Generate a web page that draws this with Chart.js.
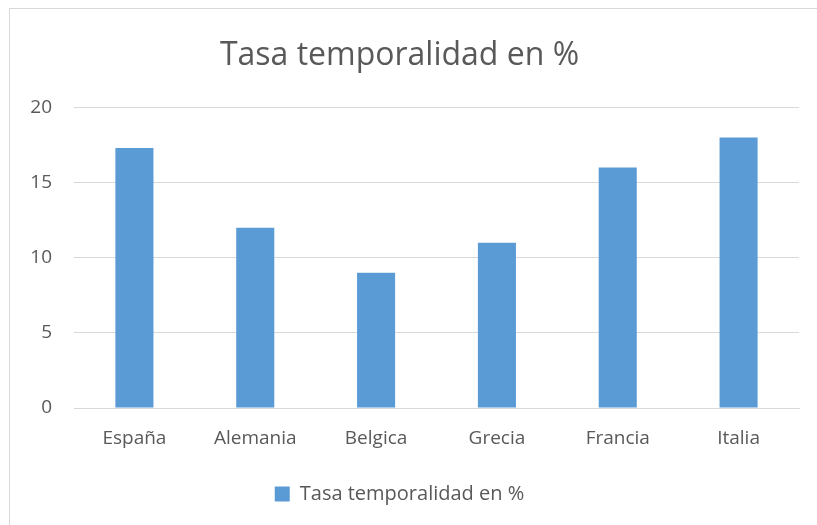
<!DOCTYPE html>
<html>
<head>
<meta charset="utf-8">
<script src="https://cdn.jsdelivr.net/npm/chart.js@4"></script>
<style>
  body { margin: 0; background: #fff; }
  #frame { position: absolute; left: 9px; top: 8px; width: 830px; height: 530px; border: 1px solid #d9d9d9; }
  #wrap { position: absolute; left: 0; top: 0; width: 817px; height: 525px; }
</style>
</head>
<body>
<div id="frame"></div>
<div id="wrap"><canvas id="chart"></canvas></div>
<script>
const categories = ["España", "Alemania", "Belgica", "Grecia", "Francia", "Italia"];
const tasaValues = [17.3, 12, 9, 11, 16, 18];
const seriesLabel = "Tasa temporalidad en %";
const yTicks = [0, 5, 10, 15, 20];

const textColor = "#595959";
const fontFamily = "'Open Sans', 'Noto Sans', sans-serif";

new Chart(document.getElementById("chart"), {
  type: "bar",
  data: {
    labels: categories,
    datasets: [
      {
        label: seriesLabel,
        data: tasaValues,
        backgroundColor: "#5b9bd5",
        borderWidth: 0,
        barPercentage: 0.63,
        categoryPercentage: 0.5
      }
    ]
  },
  options: {
    responsive: true,
    maintainAspectRatio: false,
    animation: false,
    layout: { padding: { left: 0, right: 18, top: 29, bottom: 11 } },
    plugins: {
      title: {
        display: true,
        text: seriesLabel,
        color: textColor,
        font: { family: fontFamily, size: 32, weight: "normal" },
        padding: { top: 8, bottom: 32 }
      },
      legend: {
        position: "bottom",
        labels: {
          color: textColor,
          font: { family: fontFamily, size: 20 },
          boxWidth: 15,
          boxHeight: 15,
          padding: 10
        }
      },
      tooltip: { enabled: false }
    },
    scales: {
      x: {
        afterFit: function (scale) { scale.height = 66; },
        grid: { display: false, drawTicks: false },
        border: { color: "#d9d9d9", width: 1 },
        ticks: { color: textColor, font: { family: fontFamily, size: 19 }, padding: 19 }
      },
      y: {
        min: 0,
        max: 20,
        afterFit: function (scale) { scale.width = 74; },
        afterBuildTicks: function (scale) { scale.ticks = yTicks.map(v => ({ value: v })); },
        grid: { color: "#d9d9d9", drawTicks: false },
        border: { display: false },
        ticks: { color: textColor, font: { family: fontFamily, size: 19 }, padding: 22 }
      }
    }
  }
});
</script>
</body>
</html>
